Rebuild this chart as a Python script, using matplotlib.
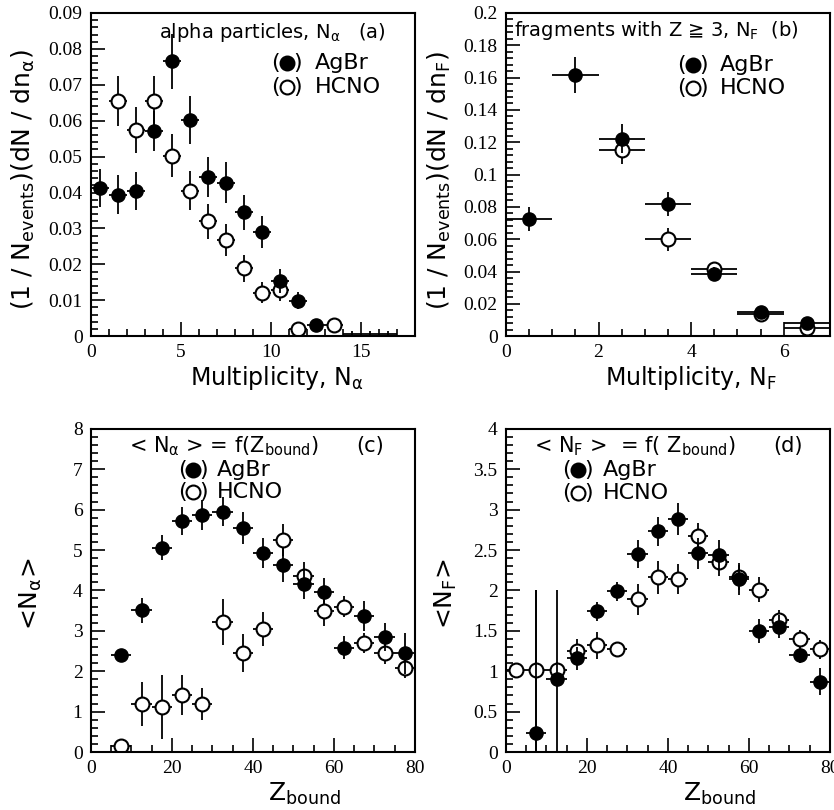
import matplotlib
matplotlib.use("Agg")
import matplotlib.pyplot as plt
from matplotlib.ticker import MultipleLocator
import numpy as np

plt.rcParams['mathtext.default'] = 'regular'
plt.rcParams['font.family'] = ['DejaVu Sans']

# panel (a): alpha multiplicity distribution
a_ag_x = [0.5, 1.5, 2.5, 3.5, 4.5, 5.5, 6.5, 7.5, 8.5, 9.5, 10.5, 11.5, 12.5]
a_ag_y = [0.0413, 0.0394, 0.0403, 0.0571, 0.0765, 0.0602, 0.0444, 0.0427,
          0.0345, 0.0290, 0.0154, 0.0099, 0.0031]
a_ag_e = [0.0052, 0.0054, 0.0053, 0.0056, 0.0076, 0.0067, 0.0056, 0.0057,
          0.0049, 0.0045, 0.0034, 0.0023, 0.0010]
a_hc_x = [1.5, 2.5, 3.5, 4.5, 5.5, 6.5, 7.5, 8.5, 9.5, 10.5, 11.5, 13.5]
a_hc_y = [0.0655, 0.0573, 0.0655, 0.0503, 0.0405, 0.0320, 0.0267, 0.0189,
          0.0121, 0.0129, 0.0021, 0.0031]
a_hc_e = [0.0069, 0.0064, 0.0070, 0.0061, 0.0055, 0.0049, 0.0044, 0.0037,
          0.0030, 0.0030, 0.0015, 0.0018]
a_zero_x = [14.5, 15.5, 16.5]
a_zero_y = [0.0005, 0.0005, 0.0005]
a_zero_e = [0.0008, 0.0008, 0.0008]

# panel (b): fragment multiplicity distribution
b_ag_x = [0.5, 1.5, 2.5, 3.5, 4.5, 5.5, 6.5]
b_ag_y = [0.0725, 0.1617, 0.1222, 0.0820, 0.0385, 0.0151, 0.0083]
b_ag_e = [0.0075, 0.0110, 0.0090, 0.0075, 0.0040, 0.0020, 0.0012]
b_hc_x = [2.5, 3.5, 4.5, 5.5, 6.5]
b_hc_y = [0.1155, 0.0600, 0.0414, 0.0140, 0.0048]
b_hc_e = [0.0090, 0.0070, 0.0040, 0.0020, 0.0015]

# panels (c), (d): mean multiplicities vs Z_bound
zb = [7.5, 12.5, 17.5, 22.5, 27.5, 32.5, 37.5, 42.5, 47.5, 52.5, 57.5,
      62.5, 67.5, 72.5, 77.5]
c_ag_y = [2.39, 3.51, 5.06, 5.71, 5.86, 5.95, 5.55, 4.93, 4.64, 4.16, 3.97,
          2.58, 3.37, 2.85, 2.44]
c_ag_e = [0.10, 0.31, 0.30, 0.35, 0.37, 0.35, 0.40, 0.37, 0.42, 0.37, 0.33,
          0.29, 0.37, 0.35, 0.50]
c_hc_y = [0.15, 1.19, 1.11, 1.41, 1.19, 3.22, 2.45, 3.04, 5.24, 4.35, 3.49,
          3.60, 2.70, 2.44, 2.08]
c_hc_e = [0.05, 0.54, 0.80, 0.50, 0.40, 0.57, 0.48, 0.42, 0.40, 0.35, 0.37,
          0.27, 0.25, 0.27, 0.25]

d_ag_y = [0.24, 0.90, 1.16, 1.74, 1.99, 2.45, 2.73, 2.88, 2.46, 2.44, 2.14,
          1.50, 1.55, 1.20, 0.87]
d_ag_e = [1.76, 1.10, 0.14, 0.12, 0.12, 0.17, 0.18, 0.20, 0.19, 0.19, 0.20,
          0.15, 0.14, 0.10, 0.17]
d_hc_x = [2.5] + zb
d_hc_y = [1.01, 1.01, 1.01, 1.25, 1.32, 1.28, 1.89, 2.16, 2.14, 2.67, 2.35,
          2.16, 2.01, 1.63, 1.40, 1.27]
d_hc_e = [0.0, 1.00, 0.10, 0.15, 0.17, 0.06, 0.19, 0.20, 0.19, 0.17, 0.17,
          0.15, 0.15, 0.13, 0.11, 0.12]

tick_font = {'family': 'Liberation Serif', 'size': 14}


def style_axes(ax, xmaj, xmin, ymaj, ymin):
    ax.xaxis.set_major_locator(MultipleLocator(xmaj))
    ax.xaxis.set_minor_locator(MultipleLocator(xmin))
    ax.yaxis.set_major_locator(MultipleLocator(ymaj))
    ax.yaxis.set_minor_locator(MultipleLocator(ymin))
    ax.tick_params(which='both', direction='in', top=False, right=False, width=1.2)
    ax.tick_params(which='major', length=10, pad=6)
    ax.tick_params(which='minor', length=5)
    for lab in ax.get_xticklabels() + ax.get_yticklabels():
        lab.set_fontfamily(tick_font['family'])
        lab.set_fontsize(tick_font['size'])
    for sp in ax.spines.values():
        sp.set_linewidth(1.5)


def draw(ax, x, y, ye, xe, filled):
    if filled:
        ax.errorbar(x, y, yerr=ye, xerr=xe, fmt='o', color='black', ms=9.5,
                    mfc='black', mec='black', elinewidth=1.3, capsize=0, zorder=3)
    else:
        ax.errorbar(x, y, yerr=ye, xerr=xe, fmt='o', color='black', ms=10,
                    mfc='white', mec='black', mew=1.5, elinewidth=1.3,
                    capsize=0, zorder=2)


def legend(ax, x, y1, y2, tx):
    for yy, fc in ((y1, 'black'), (y2, 'white')):
        ax.plot([x], [yy], 'o', transform=ax.transAxes, ms=10, mfc=fc,
                mec='black', mew=1.5, clip_on=False)
        ax.text(x - 0.034, yy, '(', transform=ax.transAxes, fontsize=16,
                ha='center', va='center')
        ax.text(x + 0.034, yy, ')', transform=ax.transAxes, fontsize=16,
                ha='center', va='center')
    ax.text(tx, y1, 'AgBr', transform=ax.transAxes, fontsize=16, va='center')
    ax.text(tx, y2, 'HCNO', transform=ax.transAxes, fontsize=16, va='center')


fig = plt.figure(figsize=(8.34, 8.10), dpi=100)
w, h = 0.3885, 0.399
ax_a = fig.add_axes([0.109, 0.585, w, h])
ax_b = fig.add_axes([0.6067, 0.585, w, h])
ax_c = fig.add_axes([0.109, 0.0716, w, h])
ax_d = fig.add_axes([0.6067, 0.0716, w, h])

# (a)
draw(ax_a, a_hc_x, a_hc_y, a_hc_e, 0.5, False)
ax_a.errorbar(a_zero_x, a_zero_y, yerr=a_zero_e, xerr=0.5, fmt='none',
              color='black', elinewidth=1.3)
draw(ax_a, a_ag_x, a_ag_y, a_ag_e, 0.5, True)
ax_a.set_xlim(0, 18)
ax_a.set_ylim(0, 0.09)
style_axes(ax_a, 5, 1, 0.01, 0.002)
ax_a.yaxis.set_major_formatter(lambda v, p: '0' if v == 0 else f'{v:.2f}')
ax_a.text(0.21, 0.94, r'alpha particles, N$_\alpha$   (a)', transform=ax_a.transAxes,
          fontsize=14, va='center')
legend(ax_a, 0.605, 0.845, 0.771, 0.69)
ax_a.set_xlabel(r'Multiplicity, N$_\alpha$', fontsize=17)
ax_a.xaxis.set_label_coords(0.574, -0.085)
ax_a.set_ylabel(r'(1 / N$_{events}$)(dN / dn$_\alpha$)', fontsize=18)
ax_a.yaxis.set_label_coords(-0.165, 0.483)

# (b)
draw(ax_b, b_hc_x, b_hc_y, b_hc_e, 0.5, False)
draw(ax_b, b_ag_x, b_ag_y, b_ag_e, 0.5, True)
ax_b.set_xlim(0, 7)
ax_b.set_ylim(0, 0.2)
style_axes(ax_b, 2, 0.5, 0.02, 0.004)
ax_b.yaxis.set_major_formatter(lambda v, p: '0' if v == 0 else f'{v:g}')
ax_b.text(0.025, 0.945, r'fragments with Z ≧ 3, N$_F$  (b)', transform=ax_b.transAxes,
          fontsize=14, va='center')
legend(ax_b, 0.577, 0.839, 0.768, 0.66)
ax_b.set_xlabel(r'Multiplicity, N$_F$', fontsize=17)
ax_b.xaxis.set_label_coords(0.571, -0.085)
ax_b.set_ylabel(r'(1 / N$_{events}$)(dN / dn$_F$)', fontsize=18)
ax_b.yaxis.set_label_coords(-0.165, 0.483)

# (c)
draw(ax_c, zb, c_hc_y, c_hc_e, 2.5, False)
draw(ax_c, zb, c_ag_y, c_ag_e, 2.5, True)
ax_c.set_xlim(0, 80)
ax_c.set_ylim(0, 8)
style_axes(ax_c, 20, 5, 1, 0.2)
ax_c.text(0.41, 0.947, r'< N$_\alpha$ > = f(Z$_{bound}$)', transform=ax_c.transAxes,
          fontsize=15, va='center', ha='center')
ax_c.text(0.861, 0.947, '(c)', transform=ax_c.transAxes, fontsize=15,
          va='center', ha='center')
legend(ax_c, 0.315, 0.872, 0.806, 0.39)
ax_c.set_xlabel(r'Z$_{bound}$', fontsize=18)
ax_c.xaxis.set_label_coords(0.66, -0.09)
ax_c.set_ylabel(r'<N$_\alpha$>', fontsize=18)
ax_c.yaxis.set_label_coords(-0.145, 0.49)

# (d)
draw(ax_d, d_hc_x, d_hc_y, d_hc_e, 2.5, False)
draw(ax_d, zb, d_ag_y, d_ag_e, 2.5, True)
ax_d.set_xlim(0, 80)
ax_d.set_ylim(0, 4)
style_axes(ax_d, 20, 5, 0.5, 0.1)
ax_d.yaxis.set_major_formatter(lambda v, p: f'{v:g}')
ax_d.text(0.398, 0.947, r'< N$_F$ >  = f( Z$_{bound}$)', transform=ax_d.transAxes,
          fontsize=15, va='center', ha='center')
ax_d.text(0.87, 0.947, '(d)', transform=ax_d.transAxes, fontsize=15,
          va='center', ha='center')
legend(ax_d, 0.222, 0.872, 0.800, 0.30)
ax_d.set_xlabel(r'Z$_{bound}$', fontsize=18)
ax_d.xaxis.set_label_coords(0.66, -0.09)
ax_d.set_ylabel(r'<N$_F$>', fontsize=18)
ax_d.yaxis.set_label_coords(-0.145, 0.49)

fig.savefig('out.png', dpi=100)
